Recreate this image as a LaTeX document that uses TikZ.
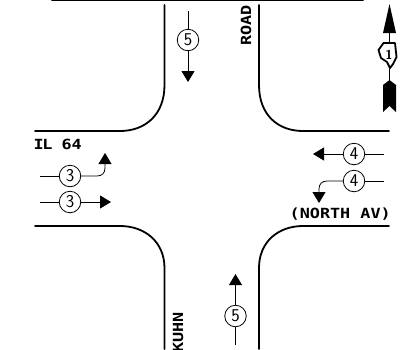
\documentclass[tikz,border=0pt]{standalone}
\usepackage{fontspec}
\setmonofont[FakeStretch=1.2]{DejaVu Sans Mono}
\usetikzlibrary{arrows.meta}
\tikzset{
  roadline/.style={line width=1.8pt,line cap=round},
  flowline/.style={line width=0.8pt},
  flowarrow/.style={line width=0.8pt,-{Triangle[length=11pt,width=13pt]}},
  flownum/.style={draw,circle,line width=0.8pt,minimum size=21.5pt,inner sep=0pt,font=\sffamily\fontsize{18}{18}\selectfont},
  roadname/.style={inner sep=0pt,font=\ttfamily\bfseries\fontsize{14}{14}\selectfont}
}
\begin{document}
\begin{tikzpicture}[x=1pt,y=-1pt]
        \useasboundingbox (0,0) rectangle (409,349);

        % Road edges
        \draw[roadline] (52,0.5) -- (363,0.5);
        \draw[roadline] (164.5,5) -- (164.5,85) .. controls (164.5,115) and (145,131) .. (120,131) -- (35,131);
        \draw[roadline] (259,5) -- (259,85) .. controls (259,115) and (278,131) .. (303,131) -- (389,131);
        \draw[roadline] (35,226) -- (120,226) .. controls (145,226) and (164.5,242) .. (164.5,268) -- (164.5,349);
        \draw[roadline] (389,226) -- (303,226) .. controls (278,226) and (259,242) .. (259,268) -- (259,349);

        % Southbound
        \node[flownum] (sb) at (188,40) {5};
        \coordinate (sbstart) at (188,11);
        \coordinate (sbend) at (188,82);
        \draw[flowline] (sbstart) -- (sb);
        \draw[flowarrow] (sb) -- (sbend);

        % Northbound
        \node[flownum] (nb) at (235.5,316) {5};
        \coordinate (nbstart) at (235.5,345);
        \coordinate (nbend) at (235.5,274);
        \draw[flowline] (nbstart) -- (nb);
        \draw[flowarrow] (nb) -- (nbend);

        % Eastbound
        \node[flownum] (ebl) at (70,176) {3};
        \node[flownum] (ebt) at (70,202) {3};
        \coordinate (eblstart) at (40,176);
        \coordinate (eblend) at (105,153);
        \coordinate (ebtstart) at (40,202);
        \coordinate (ebtend) at (111,202);
        \draw[flowline] (eblstart) -- (ebl);
        \draw[flowarrow] (ebl) -- (97,176) .. controls (102,176) and (105,173) .. (105,168) -- (eblend);
        \draw[flowline] (ebtstart) -- (ebt);
        \draw[flowarrow] (ebt) -- (ebtend);

        % Westbound
        \node[flownum] (wbt) at (354,154) {4};
        \node[flownum] (wbl) at (354,181) {4};
        \coordinate (wbtstart) at (384,154);
        \coordinate (wbtend) at (313,154);
        \coordinate (wblstart) at (384,181);
        \coordinate (wblend) at (319,203);
        \draw[flowline] (wbtstart) -- (wbt);
        \draw[flowarrow] (wbt) -- (wbtend);
        \draw[flowline] (wblstart) -- (wbl);
        \draw[flowarrow] (wbl) -- (327,181) .. controls (322,181) and (319,184) .. (319,189) -- (wblend);

        % Road names
        \node[roadname,anchor=west] (ilname) at (33.5,144.5) {I\kern-1.5pt L\kern-1pt\ 64};
        \node[roadname,anchor=east] (northname) at (391,214) {(NORTH AV)};
        \node[roadname,rotate=90,anchor=east] (roadlabel) at (246,5) {ROAD};
        \begin{scope}
          \clip (0,0) rectangle (409,349);
          \node[roadname,rotate=90,anchor=west] (kuhnlabel) at (178,353) {KUHN};
        \end{scope}

        % North arrow
        \draw[line width=1pt] (389.5,30) -- (389.5,84);
        \fill (389.5,4) -- (396,33) -- (383,33) -- cycle;
        \fill (383,85) -- (389.5,80) -- (396,85) -- (396,112) -- (389.5,106) -- (383,112) -- cycle;
        \draw[fill=white,line width=1.8pt,line join=round] (383.5,43) -- (395,43) -- (396.5,57) -- (393,64) -- (390,68) -- (387,62) -- (381,58) -- (378.5,50) -- cycle;
        \node[inner sep=0pt,font=\sffamily\bfseries\fontsize{13}{13}\selectfont] (shieldnum) at (389,55) {1};
    \end{tikzpicture}
\end{document}
